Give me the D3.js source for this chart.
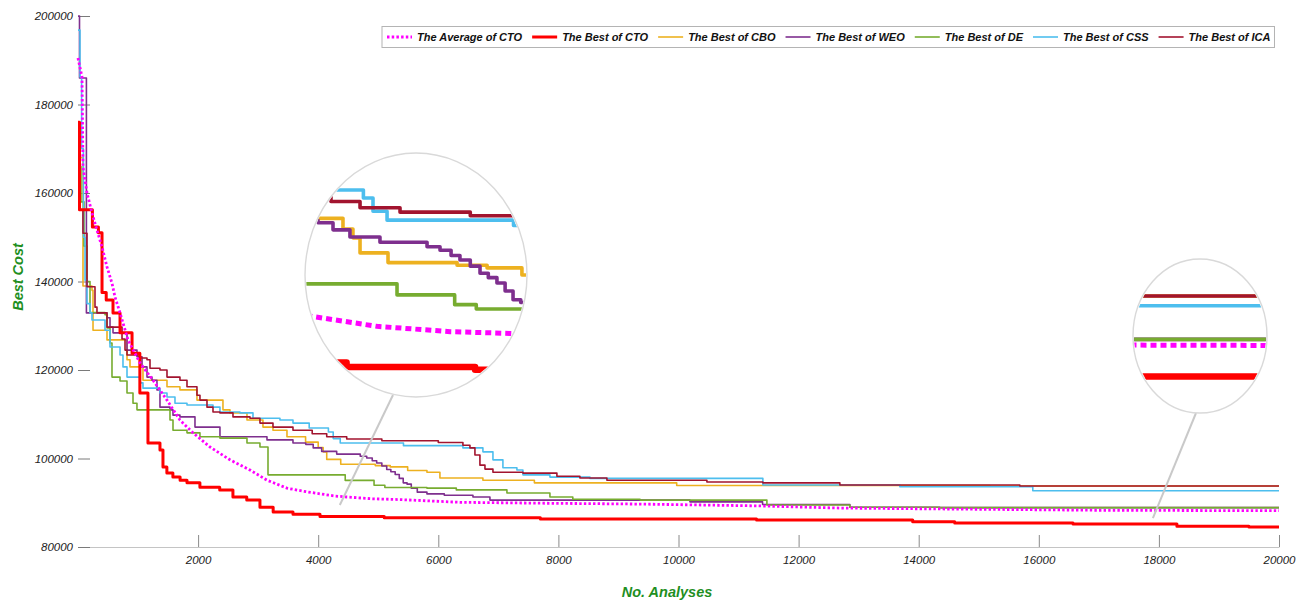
<!DOCTYPE html>
<html>
<head>
<meta charset="utf-8">
<script src="https://cdn.jsdelivr.net/npm/d3@7"></script>
<style>
  html, body { margin: 0; padding: 0; background: #fff; }
  svg { display: block; font-family: "Liberation Sans", Arial, Helvetica, sans-serif; }
</style>
</head>
<body>
<svg id="chart" width="1303" height="604"></svg>
<script>
// ---- data: [number of analyses, best cost] ----
const analysesDomain = [0, 20000];
const costDomain = [80000, 200000];
const xTicks = [2000, 4000, 6000, 8000, 10000, 12000, 14000, 16000, 18000, 20000];
const yTicks = [80000, 100000, 120000, 140000, 160000, 180000, 200000];

const seriesLabels = ["The Average of CTO", "The Best of CTO", "The Best of CBO",
  "The Best of WEO", "The Best of DE", "The Best of CSS", "The Best of ICA"];

const avgCTO = [[0,190500],[67,186200],[83,165900],[150,160000],[233,155500],[316,151600],[400,147800],
  [483,143300],[566,139600],[616,136500],[700,132900],[833,126800],[1032,121600],[1249,117700],[1482,113200],
  [1698,108700],[1915,105800],[2198,102600],[2531,99700],[2864,97400],[3147,95100],[3480,93300],[3750,92600],
  [4283,91500],[4891,90900],[5390,90700],[6360,90100],[7690,89900],[9360,89700],[11300,89300],[12690,88800],
  [14350,88600],[17000,88300],[20000,88200]];

const bestCTO = [[0,176000],[25,156200],[240,152300],[340,151000],[400,137500],[470,135800],[583,132900],
  [700,128400],[900,123800],[1030,114800],[1165,103500],[1365,101900],[1415,98100],[1480,96700],[1580,95800],
  [1700,95100],[1815,94500],[2030,93500],[2360,92900],[2580,91300],[2810,90600],[3030,89000],[3250,87900],
  [3580,87400],[4030,86900],[5100,86600],[7700,86300],[11300,86100],[13900,85700],[14600,85400],[16570,85200],
  [18300,84700],[19500,84500],[20000,84500]];

const bestCBO = [[0,168000],[83,139000],[233,138000],[250,129000],[483,126800],[816,122300],[866,120700],
  [1082,117700],[1482,116200],[1698,115500],[1981,113200],[2414,111000],[2531,110300],[2814,108700],
  [3080,107100],[3247,106400],[3480,104900],[3790,103700],[4000,102500],[4083,101500],[4142,99800],
  [4375,98700],[4950,98400],[5200,98100],[5490,97300],[5811,96900],[6027,95600],[6743,95100],[7600,94500],
  [9970,93900],[15185,93800],[20000,93800]];

const bestWEO = [[0,200000],[25,186000],[140,132900],[483,131800],[533,129700],[583,128400],[816,124500],
  [982,123000],[1066,120700],[1149,118400],[1232,117700],[1315,115500],[1365,111600],[1532,111000],
  [1582,109800],[1698,109400],[1948,107100],[2364,104900],[3147,104200],[3580,103500],[3792,103200],
  [3917,102400],[4058,101600],[4308,101000],[4700,100500],[4808,100100],[4900,99500],[4974,99000],
  [5060,98300],[5141,97500],[5210,97000],[5282,96400],[5350,95500],[5416,94500],[5480,94200],[5550,93300],
  [5650,92400],[5811,92000],[6100,91700],[6577,91300],[6860,90600],[10190,90200],[11400,89600],
  [12854,89000],[14352,88900],[20000,88900]];

const bestDE = [[0,166000],[50,158000],[100,148000],[150,140000],[200,133000],[450,132500],[483,129500],
  [533,126100],[566,118400],[700,117500],[816,114800],[916,112500],[982,111000],[1532,108700],[1582,106400],
  [1815,105800],[2031,104900],[2364,104600],[2814,103500],[3030,102600],[3164,96300],[4450,95050],
  [4930,93950],[5110,93450],[5811,93300],[6300,92900],[7143,92200],[7859,91300],[8240,90800],[9360,90600],
  [11472,89500],[12854,89000],[14352,88900],[20000,88900]];

const bestCSS = [[0,196800],[33,186200],[60,170000],[90,150000],[117,140300],[150,135000],[200,132900],
  [233,131300],[450,129000],[533,125200],[700,123400],[749,120700],[816,118400],[1032,117100],[1082,115900],
  [1365,114800],[1482,113900],[1615,112500],[1815,112100],[2248,111600],[2364,110500],[2697,110300],
  [2914,109100],[3363,108700],[3580,108000],[3850,106900],[4170,106000],[4250,104500],[4367,103500],
  [5420,102900],[6410,102400],[6743,101500],[6910,99700],[7076,97900],[7309,97400],[7409,96300],
  [7859,95800],[8525,95500],[11405,94000],[13686,93600],[15900,92700],[20000,92700]];

const bestICA = [[0,166000],[25,156100],[83,150900],[150,138800],[283,134200],[316,132900],[483,129700],
  [733,127000],[783,124500],[816,123400],[1032,122700],[1149,122300],[1199,120400],[1365,120000],
  [1482,118400],[1698,117700],[1815,116200],[1981,114300],[2031,113200],[2148,111600],[2248,110500],
  [2364,110300],[2581,109400],[2864,109100],[3030,108000],[3247,107100],[3580,106400],[3900,105600],
  [4142,104900],[4475,104400],[5060,104000],[6000,103600],[6410,103000],[6527,102400],[6610,100800],
  [6693,98500],[6777,97600],[6910,96900],[7409,96700],[7975,96000],[8358,95600],[8808,95100],
  [10473,94700],[11405,94500],[12687,94000],[15684,93800],[20000,93800]];

// ---- styling of each series ----
const series = [
  { label: seriesLabels[0], data: avgCTO,  color: "#ff00ff", width: 2.8, dash: "2.4,2.2", step: false },
  { label: seriesLabels[1], data: bestCTO, color: "#ff0000", width: 3.0, dash: null, step: true },
  { label: seriesLabels[2], data: bestCBO, color: "#edb120", width: 1.6, dash: null, step: true },
  { label: seriesLabels[3], data: bestWEO, color: "#7e2f8e", width: 1.6, dash: null, step: true },
  { label: seriesLabels[4], data: bestDE,  color: "#77ac30", width: 1.6, dash: null, step: true },
  { label: seriesLabels[5], data: bestCSS, color: "#4dbeee", width: 1.6, dash: null, step: true },
  { label: seriesLabels[6], data: bestICA, color: "#a2142f", width: 1.6, dash: null, step: true }
];
const drawOrder = [2, 3, 4, 5, 6, 1, 0];

const svg = d3.select("#chart");
const x = d3.scaleLinear().domain(analysesDomain).range([78, 1279]);
const y = d3.scaleLinear().domain(costDomain).range([547, 16]);

// ---- axes ----
const xAxis = svg.append("g").attr("transform", "translate(0,547)")
  .call(d3.axisBottom(x).tickValues(xTicks).tickFormat(d3.format("d"))
    .tickSizeInner(-12).tickSizeOuter(0).tickPadding(9));
xAxis.select(".domain").attr("stroke", "#c4c4c4").attr("stroke-width", 1);
xAxis.selectAll(".tick line").attr("stroke", "#8a8a8a");
xAxis.selectAll(".tick text").attr("fill", "#222").attr("font-size", 11.5)
  .attr("font-style", "italic").attr("font-family", "Liberation Sans, Arial, sans-serif");

const yAxis = svg.append("g").attr("transform", "translate(78,0)")
  .call(d3.axisLeft(y).tickValues(yTicks).tickFormat(d3.format("d"))
    .tickSizeInner(-12).tickSizeOuter(0).tickPadding(5));
yAxis.select(".domain").remove();
yAxis.selectAll(".tick line").attr("stroke", "#7a7a7a");
yAxis.selectAll(".tick text").attr("fill", "#222").attr("font-size", 11.5)
  .attr("font-style", "italic").attr("font-family", "Liberation Sans, Arial, sans-serif");

// axis titles
svg.append("text").attr("transform", "translate(18,277) rotate(-90)")
  .attr("text-anchor", "middle").attr("dominant-baseline", "central")
  .attr("font-size", 14.5).attr("font-weight", "bold").attr("font-style", "italic")
  .attr("fill", "#1f8f1f").text("Best Cost");
svg.append("text").attr("x", 667).attr("y", 592)
  .attr("text-anchor", "middle").attr("dominant-baseline", "central")
  .attr("font-size", 14.5).attr("font-weight", "bold").attr("font-style", "italic")
  .attr("fill", "#1f8f1f").text("No. Analyses");

// ---- convergence curves ----
function makeLine(sx, sy, s) {
  return d3.line().x(d => sx(d[0])).y(d => sy(d[1]))
    .curve(s.step ? d3.curveStepAfter : d3.curveLinear);
}
const plot = svg.append("g");
drawOrder.forEach(i => {
  const s = series[i];
  plot.append("path").attr("d", makeLine(x, y, s)(s.data))
    .attr("fill", "none").attr("stroke", s.color).attr("stroke-width", s.width)
    .attr("stroke-dasharray", s.dash).attr("stroke-linejoin", "round");
});

// ---- magnifier insets (2x zoom of the same curves) ----
const magnify = 2;
const insets = [
  { id: "lens1", cx: 416, cy: 275, rx: 111, ry: 122, center: [4608, 97300], target: [4360, 89500], from: [393, 395] },
  { id: "lens2", cx: 1200, cy: 336, rx: 67, ry: 77, center: [19000, 89280], target: [17900, 86500], from: [1196, 413] }
];
const defs = svg.append("defs");
const pxPerX = (x(1000) - x(0)) / 1000 * magnify;
const pxPerY = (y(0) - y(1000)) / 1000 * magnify;

insets.forEach(ins => {
  // leader line
  svg.append("line")
    .attr("x1", x(ins.target[0])).attr("y1", y(ins.target[1]))
    .attr("x2", ins.from[0]).attr("y2", ins.from[1])
    .attr("stroke", "#c9c9c9").attr("stroke-width", 2);

  defs.append("clipPath").attr("id", ins.id)
    .append("ellipse").attr("cx", ins.cx).attr("cy", ins.cy).attr("rx", ins.rx - 1).attr("ry", ins.ry - 1);

  svg.append("ellipse").attr("cx", ins.cx).attr("cy", ins.cy).attr("rx", ins.rx).attr("ry", ins.ry)
    .attr("fill", "#fff");

  const xi = d3.scaleLinear()
    .domain([ins.center[0] - ins.rx / pxPerX, ins.center[0] + ins.rx / pxPerX])
    .range([ins.cx - ins.rx, ins.cx + ins.rx]);
  const yi = d3.scaleLinear()
    .domain([ins.center[1] - ins.ry / pxPerY, ins.center[1] + ins.ry / pxPerY])
    .range([ins.cy + ins.ry, ins.cy - ins.ry]);

  const g = svg.append("g").attr("clip-path", `url(#${ins.id})`);
  drawOrder.forEach(i => {
    const s = series[i];
    const w = i === 1 ? 6.5 : (i === 0 ? 5 : 3.6);
    g.append("path").attr("d", makeLine(xi, yi, s)(s.data))
      .attr("fill", "none").attr("stroke", s.color).attr("stroke-width", w)
      .attr("stroke-dasharray", i === 0 ? "6,4" : null).attr("stroke-linejoin", "round");
  });

  svg.append("ellipse").attr("cx", ins.cx).attr("cy", ins.cy).attr("rx", ins.rx).attr("ry", ins.ry)
    .attr("fill", "none").attr("stroke", "#d9d9d9").attr("stroke-width", 1.4);
});

// ---- legend ----
const legend = svg.append("g");
const legendBox = legend.append("rect").attr("y", 26.5).attr("height", 21)
  .attr("fill", "#fff").attr("stroke", "#b4b4b4").attr("stroke-width", 1);
let lx = 387;
series.forEach(s => {
  legend.append("line").attr("x1", lx).attr("x2", lx + 25).attr("y1", 37).attr("y2", 37)
    .attr("stroke", s.color).attr("stroke-width", s === series[0] ? 3 : (s === series[1] ? 3 : 1.6))
    .attr("stroke-dasharray", s.dash ? "2.5,2.2" : null);
  const t = legend.append("text").attr("x", lx + 30).attr("y", 41)
    .attr("font-size", 11).attr("font-weight", "bold").attr("font-style", "italic")
    .attr("fill", "#111").text(s.label);
  lx += 30 + t.node().getComputedTextLength() + 10;
});
legendBox.attr("x", 382).attr("width", lx - 10 + 4 - 382);
</script>
</body>
</html>
